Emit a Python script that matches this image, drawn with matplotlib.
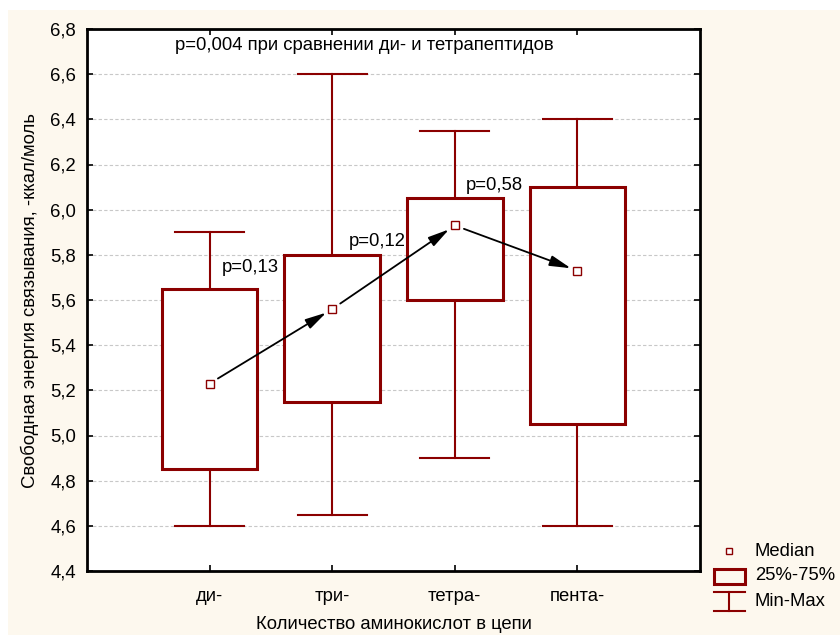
import matplotlib
matplotlib.use("Agg")
import matplotlib.pyplot as plt
from matplotlib.patches import Rectangle
from matplotlib.lines import Line2D
from matplotlib.ticker import FuncFormatter

plt.rcParams['font.family'] = ['Liberation Sans', 'DejaVu Sans']

categories = ["ди-", "три-", "тетра-", "пента-"]
mins = [4.60, 4.65, 4.90, 4.60]
q1 = [4.85, 5.15, 5.60, 5.05]
medians = [5.23, 5.56, 5.93, 5.73]
q3 = [5.65, 5.80, 6.05, 6.10]
maxs = [5.90, 6.60, 6.35, 6.40]
p_labels = ["p=0,13", "p=0,12", "p=0,58"]
title_text = "p=0,004 при сравнении ди- и тетрапептидов"
yticks = [4.4, 4.6, 4.8, 5.0, 5.2, 5.4, 5.6, 5.8, 6.0, 6.2, 6.4, 6.6, 6.8]

RED = "#8b0000"
FS = 13.3
W, H = 840, 635
fig = plt.figure(figsize=(W / 100, H / 100), dpi=100)
fig.patch.set_facecolor("white")
fig.patches.append(Rectangle((8 / W, 0), 1, 1 - 10 / H, transform=fig.transFigure,
                             facecolor="#fdf8ee", edgecolor="none", zorder=-10))

ax = fig.add_axes([87 / W, 1 - 571 / H, (700 - 87) / W, (571 - 29) / H])
ax.set_facecolor("white")
ax.set_xlim(0, 5)
ax.set_ylim(4.4, 6.8)

x = [1, 2, 3, 4]
bw = 0.78
cw = 0.56
for xi, lo, a, m, b, hi in zip(x, mins, q1, medians, q3, maxs):
    ax.add_patch(Rectangle((xi - bw / 2, a), bw, b - a, facecolor="white",
                           edgecolor=RED, linewidth=2.2, zorder=3))
    ax.plot([xi, xi], [hi, b], color=RED, lw=1.5, zorder=2)
    ax.plot([xi, xi], [lo, a], color=RED, lw=1.5, zorder=2)
    ax.plot([xi - cw / 2, xi + cw / 2], [hi, hi], color=RED, lw=1.5, zorder=2)
    ax.plot([xi - cw / 2, xi + cw / 2], [lo, lo], color=RED, lw=1.5, zorder=2)
    ax.plot([xi], [m], marker="s", ms=5.5, mfc="white", mec=RED, mew=1.0, zorder=6)

for i in range(3):
    ax.annotate("", xy=(x[i + 1], medians[i + 1]), xytext=(x[i], medians[i]),
                arrowprops=dict(arrowstyle="-|>,head_length=0.8,head_width=0.2",
                                color="black", lw=1.3,
                                mutation_scale=16, shrinkA=7, shrinkB=5),
                zorder=5)

p_pos = [(1.10, 5.742), (2.137, 5.861), (3.09, 6.105)]
for (px, py), t in zip(p_pos, p_labels):
    ax.text(px, py, t, fontsize=FS, ha="left", va="center", zorder=7)

ax.text(0.718, 6.725, title_text, fontsize=FS, ha="left", va="center", zorder=7)

ax.set_yticks(yticks)
ax.yaxis.set_major_formatter(FuncFormatter(lambda v, p: f"{v:.1f}".replace(".", ",")))
ax.set_xticks(x)
ax.set_xticklabels(categories)
ax.tick_params(axis="both", labelsize=FS, direction="in", length=4, width=1.2,
               top=True, right=True)
ax.tick_params(axis="x", pad=12)
ax.tick_params(axis="y", pad=8)
for yv in yticks[1:-1]:
    ax.axhline(yv, color="#c8c8c8", lw=0.8, ls=(0, (3, 2)), zorder=0)
for s in ax.spines.values():
    s.set_linewidth(2.0)

ax.set_ylabel("Свободная энергия связывания, -ккал/моль", fontsize=FS, labelpad=8)
ax.set_xlabel("Количество аминокислот в цепи", fontsize=FS, labelpad=8)

# legend
fx = lambda px: px / W
fy = lambda py: 1 - py / H
fig.add_artist(Line2D([fx(729)], [fy(551)], marker="s", ms=5, mfc="white", mec=RED,
                      mew=1.0, transform=fig.transFigure))
fig.add_artist(Rectangle((fx(714), fy(584)), (745 - 714) / W, (584 - 569) / H,
                         transform=fig.transFigure, facecolor="none", edgecolor=RED, lw=2.2))
for seg in [((714, 745), (592, 592)), ((714, 745), (611, 611)), ((729, 729), (592, 611))]:
    fig.add_artist(Line2D([fx(seg[0][0]), fx(seg[0][1])], [fy(seg[1][0]), fy(seg[1][1])],
                          color=RED, lw=1.5, transform=fig.transFigure))
for ty, t in [(551, "Median"), (576, "25%-75%"), (601, "Min-Max")]:
    fig.text(fx(755), fy(ty), t, fontsize=FS, ha="left", va="center")

fig.savefig("out.png", dpi=100, facecolor=fig.get_facecolor())
